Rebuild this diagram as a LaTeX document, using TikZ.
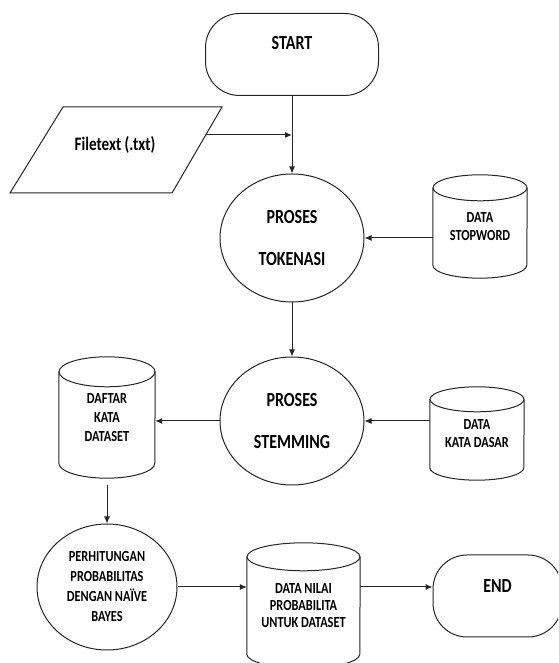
\documentclass[tikz,border=0pt]{standalone}
\usepackage{fontspec}
\setmainfont{Carlito}[FakeStretch=0.8]
\usetikzlibrary{shapes.geometric,arrows.meta,calc}

\tikzset{
  line/.style={line width=1pt, draw=black!85},
  arr/.style={line, -{Latex[length=7pt,width=6pt]}},
  bigtext/.style={font=\bfseries\fontsize{20}{42}\selectfont},
  smalltext/.style={font=\bfseries\fontsize{15.4}{18}\selectfont},
  term/.style={draw=black!85, line width=1pt, rounded corners=34pt, minimum height=82pt,
    inner sep=0pt, font=\bfseries\fontsize{20}{24}\selectfont, text height=12.9pt, text depth=22pt},
  proc/.style={draw=black!85, ellipse, line width=1pt, inner sep=0pt, align=center},
  dbox/.style={inner sep=0pt, align=center, smalltext},
}

\newcommand{\drawcyl}[3]{%
  \draw[line] ([yshift=-#3]#1.north west) -- ([yshift=#3]#1.south west)
     arc[start angle=180, end angle=360, x radius=#2, y radius=#3]
     -- ([yshift=-#3]#1.north east);
  \draw[line] ([yshift=-#3]#1.north) ellipse [x radius=#2, y radius=#3];
}

\begin{document}
\begin{tikzpicture}[x=1pt,y=1pt]
\useasboundingbox (0,0) rectangle (558,663);
\clip (0,0) rectangle (558,663);
\fill[white] (0,0) rectangle (558,663);

% START
\node[term, minimum width=173pt] (startN) at (292,608.5) {START};

% Filetext parallelogram
\draw[line] (10,470) -- (63,556) -- (222,556) -- (172,470) -- cycle;
\node[font=\bfseries\fontsize{19}{22}\selectfont, inner sep=0pt] (fileN) at (115,518) {Filetext (.txt)};
\coordinate (fileout) at (205.7,528);
\coordinate (join) at (292,528);

% Proses tokenasi
\node[proc, bigtext, minimum width=144pt, minimum height=128pt] (tokN) at (292,425) {PROSES\\TOKENASI};

% Data stopword
\node[dbox, minimum width=94pt, minimum height=103pt] (stopN) at (480,436.5) {DATA\\STOPWORD};
\drawcyl{stopN}{47pt}{13pt}

% Proses stemming
\node[proc, bigtext, minimum width=144pt, minimum height=128pt] (stemN) at (292,242) {PROSES\\STEMMING};

% Data kata dasar
\node[dbox, minimum width=94pt, minimum height=93pt] (dasarN) at (477,229.5) {DATA\\KATA DASAR};
\drawcyl{dasarN}{47pt}{12.5pt}

% Daftar kata dataset
\node[dbox, minimum width=96pt, minimum height=121pt, font=\bfseries\fontsize{15.4}{19}\selectfont] (daftarN) at (107,245.5) {DAFTAR\\KATA\\DATASET};
\drawcyl{daftarN}{48pt}{15pt}

% Perhitungan
\node[proc, minimum width=140pt, minimum height=126pt, font=\bfseries\fontsize{15.4}{20}\selectfont] (perhN) at (107,76) {PERHITUNGAN\\PROBABILITAS\\DENGAN NAÏVE\\BAYES};

% Data nilai
\node[dbox, minimum width=113pt, minimum height=125pt, font=\bfseries\fontsize{15.4}{17}\selectfont] (nilaiN) at (303.5,57.5) {DATA NILAI\\PROBABILITA\\UNTUK DATASET};
\drawcyl{nilaiN}{56.5pt}{14pt}

% END
\node[term, minimum width=129pt, text depth=20pt] (endN) at (497.5,67) {END};

% connectors
\draw[arr] (startN) -- (tokN);
\draw[arr] (fileout) -- (join);
\draw[arr] (stopN.west |- tokN.east) -- (tokN.east);
\draw[arr] (tokN) -- (stemN);
\draw[arr] (dasarN.west |- stemN.east) -- (stemN.east);
\draw[arr] (stemN.west) -- (daftarN.east |- stemN.west);
\draw[arr, shorten <=7pt] (daftarN.south) -- (perhN.north);
\draw[arr] (perhN.east) -- (nilaiN.west |- perhN.east);
\draw[arr] (nilaiN.east |- perhN.east) -- (endN.west |- perhN.east);
\end{tikzpicture}
\end{document}
